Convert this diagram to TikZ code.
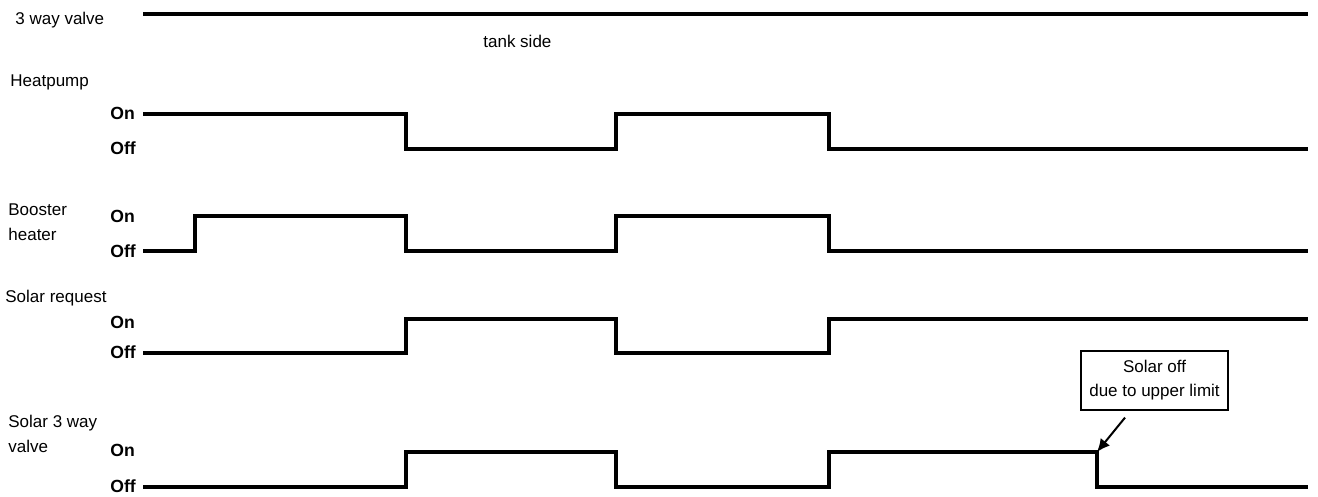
\documentclass[tikz,border=0pt]{standalone}
\usepackage{fontspec}
\setmainfont{Liberation Sans}
\usetikzlibrary{arrows.meta,positioning}

\begin{document}
\begin{tikzpicture}[x=0.5pt,y=-0.5pt,
  sig/.style={line width=1.7pt},
  lvl/.style={font=\bfseries\fontsize{8.8}{10}\selectfont,anchor=west,inner sep=0pt},
  lab/.style={font=\fontsize{8.5}{12.5}\selectfont,anchor=west,align=left,inner sep=0pt}]
  \useasboundingbox (0,0) rectangle (1318,497);
  % row titles
  \node[lab] (valve)   at (15,20)  {3 way valve};
  \node[lab] (tank)    at (483,41) {tank side};
  \node[lab] (hp)      at (10,82)  {Heatpump};
  \node[lab] (boost)   at (8,222)  {Booster\\heater};
  \node[lab] (solreq)  at (5,298)  {Solar request};
  \node[lab] (solval)  at (8,434)  {Solar 3 way\\valve};
  % on/off levels
  \foreach \y/\t/\n in {113/On/hpon,148/Off/hpoff,216/On/bhon,251/Off/bhoff,322/On/sron,352/Off/sroff,450/On/svon,486/Off/svoff}
    \node[lvl] (\n) at (110,\y) {\t};
  % signals
  \draw[sig] (143,14) -- (1308,14);
  \draw[sig] (143,114) -| (406,149) -| (616,114) -| (829,149) -- (1308,149);
  \draw[sig] (143,251) -| (195,216) -| (406,251) -| (616,216) -| (829,251) -- (1308,251);
  \draw[sig] (143,353) -| (406,319) -| (616,353) -| (829,319) -- (1308,319);
  \draw[sig] (143,487) -| (406,452) -| (616,487) -| (829,452) -| (1097,487) -- (1308,487);
  \coordinate (cutoff) at (1097,452);
  % callout
  \node[draw,line width=0.6pt,minimum width=73.5pt,minimum height=29.5pt,align=center,
        font=\fontsize{8.5}{12}\selectfont] (note) at (1154.5,380.5) {Solar off\\due to upper limit};
  \draw[-{Latex[length=6.5pt,width=6pt]},line width=1pt] ([xshift=-14.75pt,yshift=-3.5pt]note.south) -- (cutoff);
\end{tikzpicture}
\end{document}
